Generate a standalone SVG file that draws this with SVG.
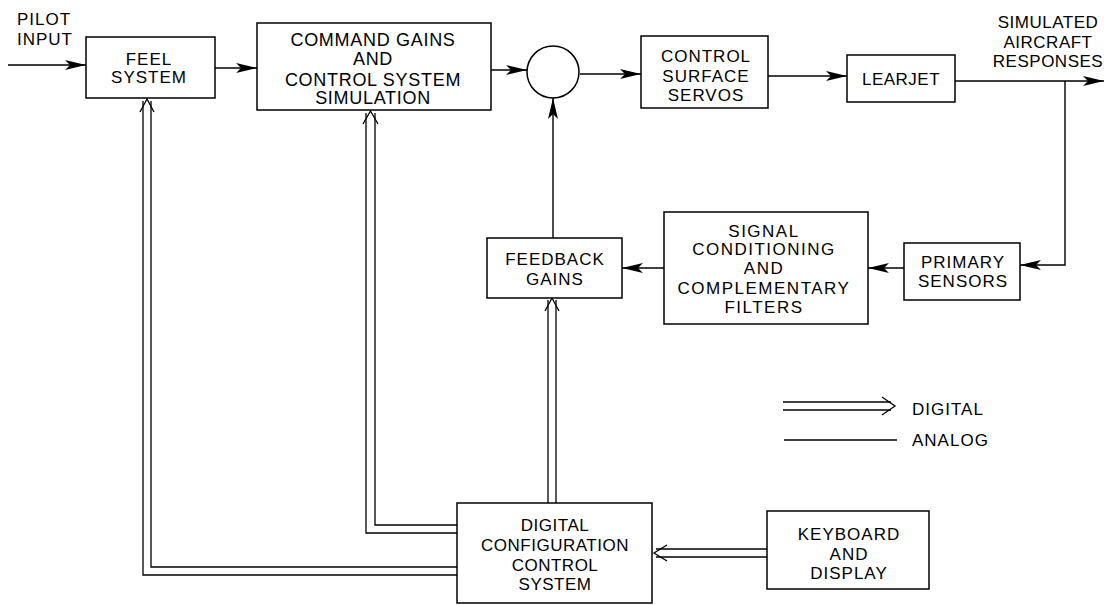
<svg xmlns="http://www.w3.org/2000/svg" width="1106" height="605" viewBox="0 0 1106 605">
<style>
.box{fill:#fff;stroke:#000;stroke-width:1.5}
.t{font-family:"Liberation Sans",Arial,sans-serif;font-size:17px;fill:#000;text-anchor:middle;letter-spacing:1px}
.tl{text-anchor:start}
.big{font-size:18px;letter-spacing:0.7px}
.an{fill:none;stroke:#000;stroke-width:1.4}
.dg{fill:none;stroke:#000;stroke-width:1.3}
</style>
<defs>
<marker id="ah" markerUnits="userSpaceOnUse" markerWidth="22" markerHeight="12" refX="21" refY="5" orient="auto" overflow="visible">
<path d="M0,0 L21,5 L0,10 L5,5 z" fill="#000"/>
</marker>
</defs>
<rect width="1106" height="605" fill="#fff"/>

<g id="connectors">
<line class="an" x1="8" y1="65" x2="86" y2="65" marker-end="url(#ah)"/>
<line class="an" x1="215" y1="68" x2="257" y2="68" marker-end="url(#ah)"/>
<line class="an" x1="491" y1="70" x2="527" y2="70" marker-end="url(#ah)"/>
<line class="an" x1="580" y1="74" x2="641" y2="74" marker-end="url(#ah)"/>
<line class="an" x1="768" y1="76" x2="847" y2="76" marker-end="url(#ah)"/>
<line class="an" x1="955" y1="81" x2="1104" y2="81" marker-end="url(#ah)"/>
<polyline class="an" points="1065,81 1065,265 1020,265" marker-end="url(#ah)"/>
<line class="an" x1="904" y1="268" x2="868" y2="268" marker-end="url(#ah)"/>
<line class="an" x1="664" y1="268" x2="622" y2="268" marker-end="url(#ah)"/>
<line class="an" x1="553" y1="238" x2="553" y2="98" marker-end="url(#ah)"/>
<!-- digital: DCCS to feel system -->
<polyline class="dg" points="457,575 143,575 143,101"/>
<polyline class="dg" points="457,567 151,567 151,101"/>
<polyline class="dg" points="140,112 147,99 154,112"/>
<!-- digital: DCCS to command gains -->
<polyline class="dg" points="457,533 366,533 366,113"/>
<polyline class="dg" points="457,525 375,525 375,113"/>
<polyline class="dg" points="363,124 370.5,111 378,124"/>
<!-- digital: DCCS to feedback gains -->
<line class="dg" x1="548" y1="503" x2="548" y2="300"/>
<line class="dg" x1="556" y1="503" x2="556" y2="300"/>
<polyline class="dg" points="545,311 552,298 559,311"/>
<!-- digital: keyboard to DCCS -->
<line class="dg" x1="767" y1="549" x2="656" y2="549"/>
<line class="dg" x1="767" y1="557" x2="656" y2="557"/>
<polyline class="dg" points="667,545 654,553 667,561"/>
</g>

<g id="pilot-input"><text class="t tl" x="17" y="25">PILOT</text><text class="t tl" x="17" y="45">INPUT</text></g>

<g id="feel-system">
<rect class="box" x="86" y="37" width="129" height="61"/>
<text class="t" x="149" y="65">FEEL</text>
<text class="t" x="149" y="83">SYSTEM</text>
</g>

<g id="command-gains">
<rect class="box" x="257" y="23" width="234" height="87"/>
<text class="t big" x="373" y="46">COMMAND GAINS</text>
<text class="t big" x="373" y="65">AND</text>
<text class="t big" x="373" y="86">CONTROL SYSTEM</text>
<text class="t big" x="373" y="104">SIMULATION</text>
</g>

<g id="summing-junction">
<circle cx="553" cy="72" r="26" fill="#fff" stroke="#000" stroke-width="1.5"/>
</g>

<g id="control-surface-servos">
<rect class="box" x="641" y="36" width="127" height="72"/>
<text class="t" x="706" y="62">CONTROL</text>
<text class="t" x="706" y="82">SURFACE</text>
<text class="t" x="706" y="101">SERVOS</text>
</g>

<g id="learjet">
<rect class="box" x="847" y="55" width="108" height="47"/>
<text class="t" x="901" y="85" style="letter-spacing:0.5px">LEARJET</text>
</g>

<g id="simulated-responses">
<text class="t" x="1048" y="28" style="letter-spacing:0.5px">SIMULATED</text>
<text class="t" x="1048" y="48" style="letter-spacing:0.5px">AIRCRAFT</text>
<text class="t" x="1048" y="67" style="letter-spacing:0.5px">RESPONSES</text>
</g>

<g id="primary-sensors">
<rect class="box" x="904" y="243" width="116" height="57"/>
<text class="t" x="963" y="268">PRIMARY</text>
<text class="t" x="963" y="287">SENSORS</text>
</g>

<g id="signal-conditioning">
<rect class="box" x="664" y="212" width="204" height="112"/>
<text class="t" x="764" y="237" style="letter-spacing:1.5px">SIGNAL</text>
<text class="t" x="764" y="255" style="letter-spacing:1.5px">CONDITIONING</text>
<text class="t" x="764" y="274" style="letter-spacing:1.5px">AND</text>
<text class="t" x="764" y="294" style="letter-spacing:1.5px">COMPLEMENTARY</text>
<text class="t" x="764" y="313" style="letter-spacing:1.5px">FILTERS</text>
</g>

<g id="feedback-gains">
<rect class="box" x="487" y="238" width="135" height="60"/>
<text class="t" x="555" y="265">FEEDBACK</text>
<text class="t" x="555" y="285">GAINS</text>
</g>

<g id="digital-configuration-control-system">
<rect class="box" x="457" y="503" width="195" height="100"/>
<text class="t" x="555" y="531" style="letter-spacing:0.5px">DIGITAL</text>
<text class="t" x="555" y="551" style="letter-spacing:0.5px">CONFIGURATION</text>
<text class="t" x="555" y="571" style="letter-spacing:0.5px">CONTROL</text>
<text class="t" x="555" y="590" style="letter-spacing:0.5px">SYSTEM</text>
</g>

<g id="keyboard-and-display">
<rect class="box" x="767" y="511" width="162" height="78"/>
<text class="t" x="849" y="540">KEYBOARD</text>
<text class="t" x="849" y="560">AND</text>
<text class="t" x="849" y="579">DISPLAY</text>
</g>

<g id="legend">
<line class="dg" x1="783" y1="402" x2="891" y2="402"/>
<line class="dg" x1="783" y1="410" x2="891" y2="410"/>
<polyline class="dg" points="882,397 895,406 882,415"/>
<text class="t tl" x="912" y="415">DIGITAL</text>
<line class="an" x1="784" y1="440" x2="897" y2="440"/>
<text class="t tl" x="912" y="446">ANALOG</text>
</g>
</svg>
